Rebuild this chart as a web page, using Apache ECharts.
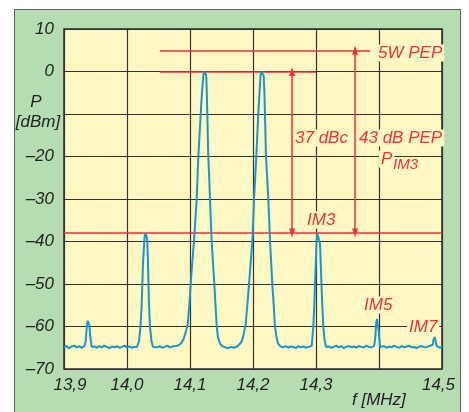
<!DOCTYPE html>
<html>
<head>
<meta charset="utf-8">
<script src="https://cdn.jsdelivr.net/npm/echarts@6/dist/echarts.min.js"></script>
<style>
  html, body { margin: 0; padding: 0; background: #ffffff; }
  #panel { position: absolute; left: 14px; top: 9px; width: 445px; height: 420px;
           background: #b6dcb2; border: 1.5px solid #5e5e5e; }
  #chart { position: absolute; left: 0; top: 0; width: 469px; height: 412px; }
</style>
</head>
<body>
<div id="panel"></div>
<div id="chart"></div>
<script>
// Spectrum of a two-tone test: frequency in MHz and level in dBm
const traceFreq = [
  13.900, 13.904, 13.908, 13.912, 13.916, 13.920, 13.924, 13.928, 13.932,
  13.9345, 13.9362, 13.9376, 13.9390, 13.9403, 13.9418, 13.9440,
  13.948, 13.952, 13.956, 13.960, 13.964, 13.968, 13.972, 13.976, 13.980,
  13.984, 13.988, 13.992, 13.996, 14.000, 14.004, 14.008, 14.012,
  14.0159, 14.0190, 14.0214, 14.0233, 14.0254, 14.0278, 14.0294, 14.0310,
  14.0321, 14.0333, 14.0349, 14.0365, 14.0389, 14.0413,
  14.044, 14.048, 14.052, 14.056, 14.060, 14.064, 14.068, 14.072, 14.076,
  14.0810, 14.0857, 14.0897, 14.0929, 14.0963, 14.0989, 14.1011, 14.1036,
  14.1063, 14.1084, 14.1106, 14.1119, 14.1132, 14.1151, 14.1170, 14.1190,
  14.1211, 14.1222, 14.1243, 14.1257, 14.1265, 14.1275, 14.1290, 14.1305,
  14.1317, 14.1330, 14.1344, 14.1365, 14.1386, 14.1405, 14.1424, 14.1444,
  14.1476, 14.1508, 14.1556, 14.1603, 14.1651, 14.1698, 14.1746, 14.1786,
  14.1821, 14.1849, 14.1884, 14.1910, 14.1937, 14.1963, 14.1989, 14.2003,
  14.2016, 14.2035, 14.2052, 14.2068, 14.2084, 14.2103, 14.2119, 14.2132,
  14.2154, 14.2170, 14.2181, 14.2190, 14.2206, 14.2225, 14.2243, 14.2257,
  14.2270, 14.2289, 14.2306, 14.2329, 14.2349, 14.2373, 14.2397, 14.2437,
  14.248, 14.252, 14.256, 14.260, 14.264, 14.268, 14.272, 14.276, 14.280,
  14.284, 14.288,
  14.2932, 14.2957, 14.2973, 14.2984, 14.2997, 14.3008, 14.3021, 14.3037,
  14.3052, 14.3063, 14.3075, 14.3087, 14.3100, 14.3116, 14.3135, 14.3159,
  14.320, 14.324, 14.328, 14.332, 14.336, 14.340, 14.344, 14.348, 14.352,
  14.356, 14.360, 14.364, 14.368, 14.372, 14.376, 14.380, 14.384, 14.388,
  14.3925, 14.3944, 14.3956, 14.3968, 14.3981, 14.3995, 14.4016,
  14.404, 14.408, 14.412, 14.416, 14.420, 14.424, 14.428, 14.432, 14.436,
  14.440, 14.444, 14.448, 14.452, 14.456, 14.460, 14.464, 14.468, 14.472,
  14.476, 14.480,
  14.4852, 14.4868, 14.4881, 14.4894, 14.4916, 14.4945, 14.4975, 14.500
];
const traceLevel = [
  -64.9, -64.6, -65.1, -64.7, -64.5, -64.9, -64.6, -65.0, -64.7,
  -63.5, -60.0, -58.7, -58.6, -59.6, -62.5, -64.8,
  -64.7, -65.0, -64.6, -64.9, -64.5, -64.8, -65.1, -64.7, -64.9,
  -64.6, -65.0, -64.8, -64.5, -64.9, -64.7, -65.0, -64.8,
  -64.8, -63.5, -60.0, -55.0, -45.0, -39.0, -38.0, -38.3,
  -39.5, -45.0, -55.0, -60.0, -63.5, -64.8,
  -64.7, -64.9, -64.6, -65.0, -64.8, -64.5, -64.9, -64.7, -64.6,
  -64.5, -64.0, -63.0, -61.5, -59.5, -55.0, -50.0, -45.0,
  -40.0, -35.0, -30.0, -25.0, -20.0, -15.0, -10.0, -5.0,
  -1.0, 0.0, 0.0, -0.8, -4.0, -10.0, -20.0, -25.0,
  -30.0, -35.0, -40.0, -45.0, -50.0, -55.0, -60.0, -62.5,
  -64.0, -64.6, -64.9, -65.1, -64.8, -65.0, -64.7, -64.2,
  -63.5, -62.0, -59.5, -55.0, -50.0, -45.0, -40.0, -35.0,
  -30.0, -25.0, -20.0, -15.0, -10.0, -5.0, -1.0, 0.0,
  0.0, -1.0, -5.0, -10.0, -20.0, -25.0, -30.0, -35.0,
  -40.0, -45.0, -50.0, -55.0, -60.0, -62.5, -64.0, -64.7,
  -64.9, -64.6, -65.0, -64.7, -64.8, -65.1, -64.6, -64.9, -64.7,
  -65.0, -64.8,
  -64.6, -60.0, -55.0, -50.0, -45.0, -40.0, -38.0, -38.2,
  -38.0, -40.5, -45.0, -50.0, -55.0, -60.0, -63.0, -64.8,
  -64.7, -65.0, -64.8, -64.5, -64.9, -64.6, -65.1, -64.8, -64.6,
  -64.9, -64.7, -65.0, -64.6, -64.8, -64.9, -64.5, -64.8, -64.9,
  -64.5, -62.0, -59.0, -58.2, -58.5, -61.0, -64.8,
  -64.8, -64.6, -65.0, -64.7, -64.9, -64.5, -64.8, -65.0, -64.6,
  -64.9, -64.7, -64.5, -64.9, -64.8, -65.1, -64.7, -64.6, -64.9,
  -64.8, -64.6,
  -64.3, -63.0, -62.5, -63.0, -64.6, -64.8, -65.0, -64.7
];

// Reference levels (dBm) and marker positions (MHz)
const pepLevel = 5;
const carrierLevel = 0;
const im3Level = -38;
const pepLineSpan = [14.052, 14.386];
const carrierLineSpan = [14.052, 14.300];
const dbcArrowFreq = 14.262;
const pepArrowFreq = 14.362;

// Axis ranges; the 14,4 tick stays unlabelled to leave room for the unit
const freqRange = [13.9, 14.5];
const levelRange = [-70, 10];
const unlabelledFreqTicks = [14.4];
const unlabelledLevelTicks = [-10];

const RED = '#e8333b';
const FONT = '"Liberation Sans", Arial, sans-serif';
const YELLOW = '#fff8c4';

const chart = echarts.init(document.getElementById('chart'), null, { renderer: 'canvas' });

const traceData = traceFreq.map((f, i) => [f, traceLevel[i]]);

function redLabel(text, x, y, size) {
  return {
    type: 'text', x: x, y: y, z: 100,
    style: {
      text: text, fill: RED, font: 'italic ' + (size || 17) + 'px ' + FONT,
      verticalAlign: 'middle', align: 'left',
      backgroundColor: YELLOW, padding: [0, 2, 0, 2]
    }
  };
}

function isTick(v, list) {
  return list.some(t => Math.abs(v - t) < 1e-6);
}

chart.setOption({
  animation: false,
  backgroundColor: 'transparent',
  grid: {
    left: 64, right: 27, top: 29, bottom: 43,
    show: true, backgroundColor: YELLOW, borderColor: '#2a2a2a', borderWidth: 1.5
  },
  xAxis: {
    type: 'value', min: freqRange[0], max: freqRange[1], interval: 0.1,
    axisLine: { show: false }, axisTick: { show: false },
    splitLine: { show: true, lineStyle: { color: '#333', width: 1.2 } },
    axisLabel: {
      margin: 8, color: '#222',
      fontFamily: FONT, fontStyle: 'italic', fontSize: 17,
      formatter: function (v) {
        if (isTick(v, unlabelledFreqTicks)) return '';
        const s = v.toFixed(1).replace('.', ',');
        if (Math.abs(v - freqRange[0]) < 1e-6) return '{first|' + s + '}';
        if (Math.abs(v - freqRange[1]) < 1e-6) return '{last|' + s + '}';
        return s;
      },
      rich: {
        first: { fontFamily: FONT, fontStyle: 'italic', fontSize: 17, color: '#222', padding: [0, 0, 0, 12] },
        last: { fontFamily: FONT, fontStyle: 'italic', fontSize: 17, color: '#222', padding: [0, 7, 0, 0] }
      }
    }
  },
  yAxis: {
    type: 'value', min: levelRange[0], max: levelRange[1], interval: 10,
    axisLine: { show: false }, axisTick: { show: false },
    splitLine: { show: true, lineStyle: { color: '#333', width: 1.2 } },
    axisLabel: {
      margin: 10, color: '#222',
      fontFamily: FONT, fontStyle: 'italic', fontSize: 17,
      formatter: function (v) {
        if (isTick(v, unlabelledLevelTicks)) return '';
        return v < 0 ? '\u2013' + Math.abs(v) : String(v);
      }
    }
  },
  series: [
    {
      type: 'line', data: traceData, showSymbol: false, z: 5,
      lineStyle: { color: '#1b95cf', width: 2 },
      silent: true
    },
    {
      type: 'line', data: [], z: 10, silent: true,
      markLine: {
        silent: true, animation: false,
        label: { show: false },
        emphasis: { disabled: true },
        data: [
          [{ coord: [pepLineSpan[0], pepLevel], symbol: 'none' },
           { coord: [pepLineSpan[1], pepLevel], symbol: 'none' }],
          [{ coord: [carrierLineSpan[0], carrierLevel], symbol: 'none' },
           { coord: [carrierLineSpan[1], carrierLevel], symbol: 'none' }],
          [{ coord: [freqRange[0], im3Level], symbol: 'none' },
           { coord: [freqRange[1], im3Level], symbol: 'none' }],
          [{ coord: [dbcArrowFreq, carrierLevel], symbol: 'triangle', symbolSize: [6, 9] },
           { coord: [dbcArrowFreq, im3Level], symbol: 'triangle', symbolSize: [6, 9] }],
          [{ coord: [pepArrowFreq, pepLevel], symbol: 'triangle', symbolSize: [6, 9] },
           { coord: [pepArrowFreq, im3Level], symbol: 'triangle', symbolSize: [6, 9] }]
        ],
        lineStyle: { color: RED, width: 1.5, type: 'solid' },
        itemStyle: { color: RED }
      }
    }
  ]
});

// Annotation text, y-axis name and frequency unit
const origin = chart.convertToPixel({ gridIndex: 0 }, [freqRange[0], -10]);
chart.setOption({
  graphic: [
    redLabel('5W PEP', 376, 53),
    redLabel('37 dBc', 293, 138),
    redLabel('43 dB PEP', 357, 138),
    redLabel('P', 379, 159),
    redLabel('IM3', 391, 165, 15),
    redLabel('IM3', 305, 220),
    redLabel('IM5', 362, 305),
    redLabel('IM7', 407, 327),
    {
      type: 'text', x: origin[0] - 28, y: origin[1] - 12, z: 100,
      style: { text: 'P', fill: '#222', font: 'italic 17px ' + FONT, align: 'center', verticalAlign: 'middle' }
    },
    {
      type: 'text', x: origin[0] - 26, y: origin[1] + 8, z: 100,
      style: { text: '[dBm]', fill: '#222', font: 'italic 17px ' + FONT, align: 'center', verticalAlign: 'middle' }
    },
    {
      type: 'text', x: 352, y: 400, z: 100,
      style: { text: 'f [MHz]', fill: '#222', font: 'italic 17px ' + FONT, align: 'left', verticalAlign: 'middle' }
    }
  ]
});
</script>
</body>
</html>
